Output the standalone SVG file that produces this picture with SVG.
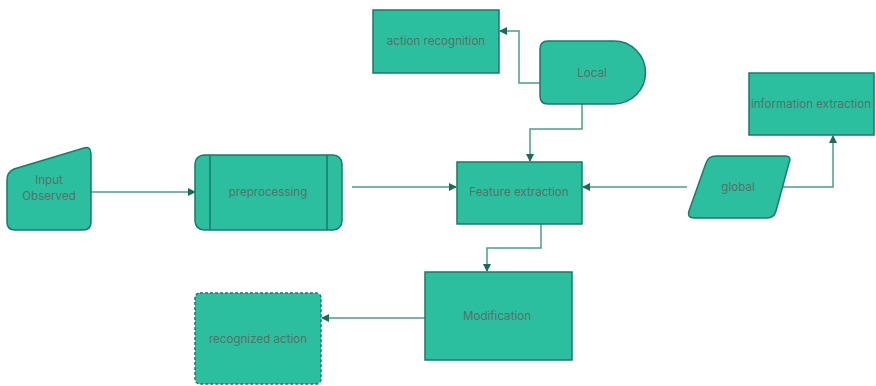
<svg xmlns="http://www.w3.org/2000/svg" width="876" height="386" viewBox="0 0 876 386">
  <style>
    .shape { fill: #2bbf9f; stroke: #1d7a64; stroke-width: 1.5; }
    .label { font-family: Inter, "Liberation Sans", sans-serif; font-size: 11.6px; fill: #5b6f68; text-anchor: middle; dominant-baseline: central; }
    .edge { fill: none; stroke: #4b9d88; stroke-width: 1.5; }
  </style>
  <defs>
    <marker id="arrow" markerWidth="8" markerHeight="8" refX="7" refY="4" orient="auto" markerUnits="userSpaceOnUse">
      <path d="M0,0 L8,4 L0,8 Z" fill="#1a6b58"/>
    </marker>
  </defs>
  <rect width="876" height="386" fill="#ffffff"/>

  <g id="connectors">
    <path class="edge" d="M91,192 L195,192" marker-end="url(#arrow)"/>
    <path class="edge" d="M352,187 L456,187" marker-end="url(#arrow)"/>
    <path class="edge" d="M687,187 L583,187" marker-end="url(#arrow)"/>
    <path class="edge" d="M781,187 L833,187 L833,136" marker-end="url(#arrow)"/>
    <path class="edge" d="M540,83 L519,83 L519,31 L500,31" marker-end="url(#arrow)"/>
    <path class="edge" d="M582,104 L582,129 L530,129 L530,161" marker-end="url(#arrow)"/>
    <path class="edge" d="M541,224 L541,248 L487,248 L487,271" marker-end="url(#arrow)"/>
    <path class="edge" d="M425,318 L322,318" marker-end="url(#arrow)"/>
  </g>

  <g id="input-observed">
    <path class="shape" d="M7,180 Q7,172 14,169 L84,148 Q91,146 91,154 L91,222 Q91,230 83,230 L15,230 Q7,230 7,222 Z"/>
    <text class="label" x="49" y="180">Input</text>
    <text class="label" x="49" y="196">Observed</text>
  </g>

  <g id="preprocessing">
    <rect class="shape" x="195" y="155" width="147" height="75" rx="9"/>
    <line class="shape" x1="210" y1="155" x2="210" y2="230"/>
    <line class="shape" x1="327" y1="155" x2="327" y2="230"/>
    <text class="label" x="268" y="192">preprocessing</text>
  </g>

  <g id="feature-extraction">
    <rect class="shape" x="457" y="162" width="125" height="62"/>
    <text class="label" x="519" y="192">Feature extraction</text>
  </g>

  <g id="action-recognition">
    <rect class="shape" x="373" y="10" width="126" height="63"/>
    <text class="label" x="436" y="41">action recognition</text>
  </g>

  <g id="local">
    <path class="shape" d="M548,41 L614,41 A31.5,31.5 0 0 1 614,104 L548,104 Q540,104 540,96 L540,49 Q540,41 548,41 Z"/>
    <text class="label" x="592" y="73">Local</text>
  </g>

  <g id="global">
    <path class="shape" d="M716,156 L785,156 Q792,156 789,163 L776,211 Q774,218 767,218 L694,218 Q687,218 689,211 L706,163 Q708,156 716,156 Z"/>
    <text class="label" x="738" y="187">global</text>
  </g>

  <g id="information-extraction">
    <rect class="shape" x="749" y="73" width="125" height="62"/>
    <text class="label" x="811" y="104">information extraction</text>
  </g>

  <g id="modification">
    <rect class="shape" x="425" y="272" width="147" height="88"/>
    <text class="label" x="497" y="316">Modification</text>
  </g>

  <g id="recognized-action">
    <rect class="shape" x="195" y="293" width="126" height="91" rx="5" stroke-dasharray="3,2"/>
    <text class="label" x="258" y="339">recognized action</text>
  </g>
</svg>
